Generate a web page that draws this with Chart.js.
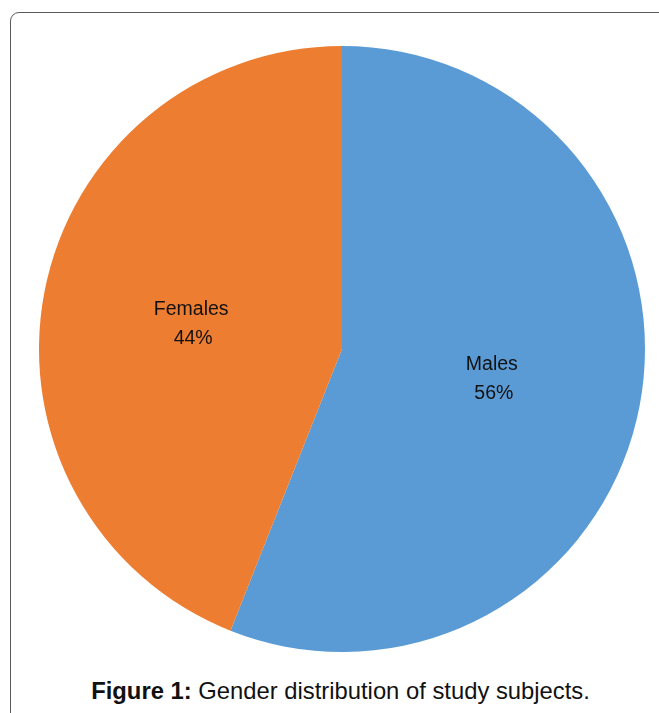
<!DOCTYPE html>
<html>
<head>
<meta charset="utf-8">
<script src="https://cdn.jsdelivr.net/npm/chart.js@4/dist/chart.umd.min.js"></script>
<style>
  html, body { margin: 0; padding: 0; background: #ffffff; width: 659px; height: 713px; overflow: hidden; }
  #frame {
    position: absolute; left: 10px; top: 12px; width: 700px; height: 760px;
    border: 1.5px solid #5a5a5a; border-radius: 9px; box-sizing: border-box;
  }
  #wrap { position: absolute; left: 38.5px; top: 46px; width: 606px; height: 606px; }
  #caption {
    position: absolute; left: 0; width: 681px; top: 677px; text-align: center;
    font-family: "Liberation Sans", Arial, sans-serif; font-size: 23.8px; color: #111; line-height: 28px;
  }
</style>
</head>
<body>
<div id="frame"></div>
<div id="wrap"><canvas id="c"></canvas></div>
<div id="caption"><b>Figure 1:</b> Gender distribution of study subjects.</div>
<script>
const categories = ['Males', 'Females'];
const values = [56, 44];
const colors = ['#5B9BD5', '#ED7D31'];

const labelPlugin = {
  id: 'sliceLabels',
  afterDatasetsDraw(chart) {
    const ctx = chart.ctx;
    const meta = chart.getDatasetMeta(0);
    const total = values.reduce((a, b) => a + b, 0);
    ctx.save();
    ctx.font = '19.5px "Liberation Sans", Arial, sans-serif';
    ctx.fillStyle = '#111111';
    ctx.textAlign = 'center';
    ctx.textBaseline = 'middle';
    meta.data.forEach((arc, i) => {
      const p = arc.tooltipPosition();
      const pct = Math.round(values[i] / total * 100) + '%';
      const dx = i === 1 ? -2 : 1;
      const dy = i === 1 ? 2 : 0;
      ctx.fillText(categories[i], p.x + dx, p.y - 13 + dy);
      ctx.fillText(pct, p.x + dx + 2, p.y + 16 + dy);
    });
    ctx.restore();
  }
};

new Chart(document.getElementById('c'), {
  type: 'pie',
  data: {
    labels: categories,
    datasets: [{
      data: values,
      backgroundColor: colors,
      borderWidth: 0
    }]
  },
  options: {
    responsive: true,
    maintainAspectRatio: false,
    animation: false,
    layout: { padding: 0 },
    plugins: {
      legend: { display: false },
      tooltip: { enabled: false },
      title: { display: false }
    }
  },
  plugins: [labelPlugin]
});
</script>
</body>
</html>
